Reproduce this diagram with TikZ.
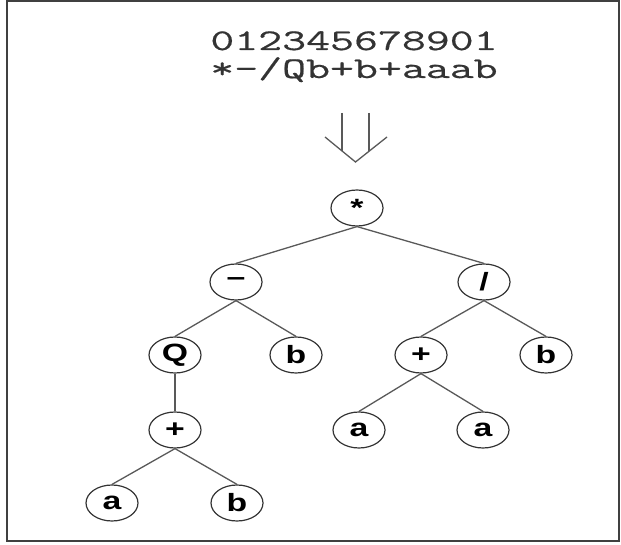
\documentclass[tikz,border=0pt]{standalone}
\usepackage{fontspec}
\setmainfont{Liberation Sans}
\newfontfamily\nodefont[FakeStretch=1.35]{Liberation Sans}
\newfontfamily\codefont[FakeStretch=1.55,FakeBold=0.6]{Latin Modern Mono}
\usetikzlibrary{shapes.geometric}

\begin{document}
\begin{tikzpicture}[x=1pt,y=-1pt,
    tnode/.style={ellipse,draw=black!80,line width=1.2pt,minimum width=52pt,minimum height=36pt,inner sep=0pt,
      font=\nodefont\bfseries\fontsize{25}{25}\selectfont},
    edge/.style={draw=black!65,line width=1.3pt},
    code/.style={anchor=base,text=black!80,font=\codefont\fontsize{30}{30}\selectfont}]
    \useasboundingbox (0,0) rectangle (621,545);
    \draw[black!75,line width=2pt] (7,1) rectangle (619,541);

    \node[code] (idx) at (354,50) {012345678901};
    \node[code] (expr) at (354,78) {*-/Qb+b+aaab};

    % double arrow
    \coordinate (tip) at (355.5,162);
    \draw[black!65,line width=1.3pt] (325,137) -- (tip) -- (387,137);
    \draw[black!65,line width=1.3pt] (342,113) -- (342,151);
    \draw[black!65,line width=1.3pt] (369,113) -- (369,151);

    \node[tnode] (mul) at (357,208) {*};
    \node[tnode] (minus) at (236,282) {–};
    \node[tnode] (div) at (484,282) {/};
    \node[tnode] (Q) at (175,355) {Q};
    \node[tnode] (b_l) at (296,355) {b};
    \node[tnode] (plus_r) at (421,355) {+};
    \node[tnode] (b_r) at (546,355) {b};
    \node[tnode] (plus_l) at (175,430) {+};
    \node[tnode] (a_1) at (359,430) {a};
    \node[tnode] (a_2) at (483,430) {a};
    \node[tnode] (a_0) at (112,503) {a};
    \node[tnode] (b_0) at (237,503) {b};

    \draw[edge] (mul.south) -- (minus.north) ;
    \draw[edge] (mul.south) -- (div.north) ;
    \draw[edge] (minus.south) -- (Q.north) ;
    \draw[edge] (minus.south) -- (b_l.north) ;
    \draw[edge] (div.south) -- (plus_r.north) ;
    \draw[edge] (div.south) -- (b_r.north) ;
    \draw[edge] (Q.south) -- (plus_l.north) ;
    \draw[edge] (plus_r.south) -- (a_1.north) ;
    \draw[edge] (plus_r.south) -- (a_2.north) ;
    \draw[edge] (plus_l.south) -- (a_0.north) ;
    \draw[edge] (plus_l.south) -- (b_0.north) ;
\end{tikzpicture}
\end{document}
